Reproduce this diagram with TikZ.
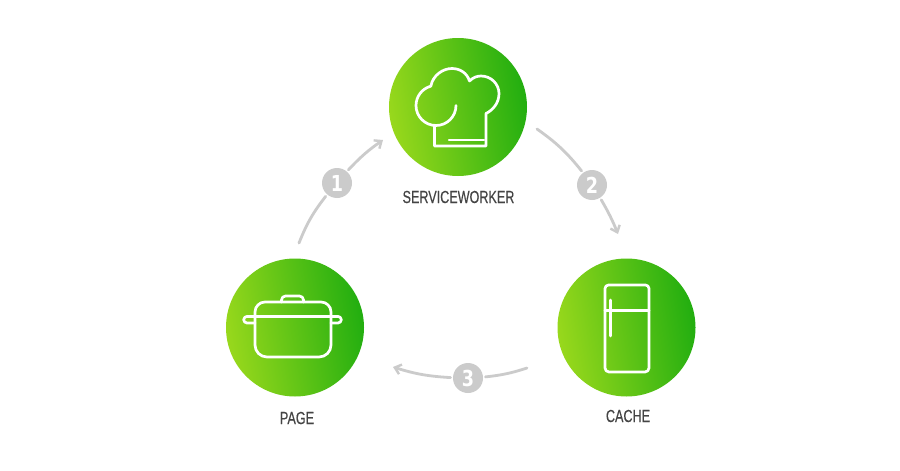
\documentclass[tikz,border=0pt]{standalone}
\usepackage{fontspec}
\usetikzlibrary{arrows.meta}
\newfontfamily\labelfont[FakeStretch=0.72,FakeBold=0.25]{Liberation Sans}
\newfontfamily\digitfont[FakeStretch=0.8]{DejaVu Sans Bold}
\definecolor{gleft}{HTML}{98D81C}
\definecolor{gright}{HTML}{22AE10}
\definecolor{linegray}{HTML}{CBCBCB}
\definecolor{labelgray}{HTML}{444444}
\tikzset{
  x=1pt,y=-1pt,
  disc/.style={circle,draw=none,inner sep=0pt,minimum size=138pt,left color=gleft,right color=gright,shading angle=100},
  badge/.style={circle,fill=linegray,text=white,inner sep=0pt,minimum size=30pt,outer sep=2.5pt,font=\digitfont\fontsize{22}{22}\selectfont},
  caption/.style={text=labelgray,inner sep=0pt,font=\labelfont\fontsize{17.5}{20}\selectfont},
  icon/.style={draw=white,line width=2.7pt,line cap=round,line join=round},
  link/.style={draw=linegray,line width=2.8pt,line cap=round},
  arrowlink/.style={link,-{Straight Barb[length=6pt,width=10pt,line width=2.4pt]}},
}
\begin{document}
\begin{tikzpicture}
\useasboundingbox (0,0) rectangle (900,471);
\fill[white] (0,0) rectangle (900,471);
% discs
\node[disc] (sw) at (458,107) {};
\node[disc] (page) at (295,327.5) {};
\node[disc] (cache) at (626.5,327.5) {};
% captions
\node[caption] (swl) at (458.5,197) {SERVICEWORKER};
\node[caption] (pagel) at (297,418) {PAGE};
\node[caption] (cachel) at (628,416) {CACHE};
% badges
\node[badge] (b1) at (337,183) {1};
\node[badge] (b2) at (592,185) {2};
\node[badge] (b3) at (468,378) {3};
% connector ends
\coordinate (s1) at (299,243);
\coordinate (e1) at (383,140);
\coordinate (s2) at (537,129);
\coordinate (e2) at (618,234);
\coordinate (s3) at (527,368);
\coordinate (e3) at (393,367);
\draw[link] (s1) to[bend left=8] (b1);
\draw[arrowlink] (b1) to[bend left=6] (e1);
\draw[link] (s2) to[bend left=8] (b2);
\draw[arrowlink] (b2) to[bend left=4] (e2);
\draw[link] (s3) to[bend left=6] (b3);
\draw[arrowlink] (b3) to[bend left=7] (e3);
% chef hat
\draw[icon] (456,105.5) arc[start angle=0,end angle=255,radius=20];
\draw[icon] (430.8,86.2) .. controls (433,75) and (443,68.5) .. (452,68.5)
  .. controls (460,68.5) and (467,73) .. (469.5,81)
  .. controls (473,77.5) and (477,76) .. (481,76)
  .. controls (491,76) and (499,84) .. (499,93.5)
  .. controls (499,103) and (493,110) .. (486,113.5)
  -- (486,146) -- (434.5,146) -- (434.5,125.5);
\draw[icon,line width=2.2pt] (449,140) -- (484,140);
% pot
\draw[icon] (265,302) -- (321,302) arc[start angle=-90,end angle=0,radius=10] -- (331,345) arc[start angle=0,end angle=90,radius=12] -- (267,357) arc[start angle=90,end angle=180,radius=12] -- (255,312) arc[start angle=180,end angle=270,radius=10] -- cycle;
\draw[icon] (255,323) -- (247,323) arc[start angle=90,end angle=270,radius=3.3] -- (338,316.4) arc[start angle=-90,end angle=90,radius=3.3] -- (331,323);
\draw[icon] (281.5,302) -- (281.5,300) arc[start angle=180,end angle=270,radius=4] -- (299.5,296) arc[start angle=-90,end angle=0,radius=4] -- (303.5,302);
% fridge
\draw[icon] (605,288.5) arc[start angle=180,end angle=270,radius=3.5] -- (645.5,285) arc[start angle=-90,end angle=0,radius=3.5] -- (649,368) arc[start angle=0,end angle=90,radius=4] -- (609,372) arc[start angle=90,end angle=180,radius=4] -- cycle;
\draw[icon] (605,310.5) -- (649,310.5);
\draw[icon] (610.7,300) -- (610.7,336);
\end{tikzpicture}
\end{document}
